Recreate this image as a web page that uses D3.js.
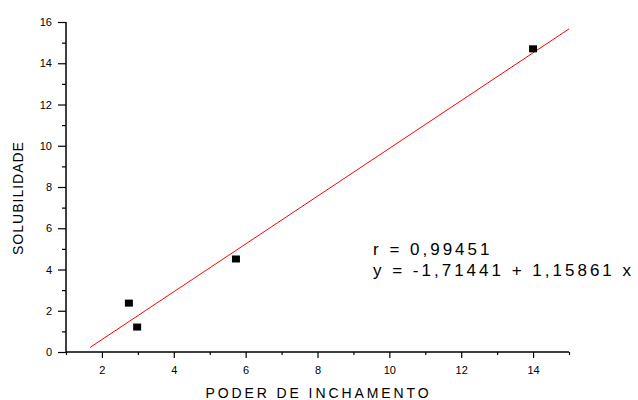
<!DOCTYPE html>
<html>
<head>
<meta charset="utf-8">
<script src="https://cdn.jsdelivr.net/npm/d3@7"></script>
<style>
  body { margin: 0; background: #fff; }
  svg text { font-family: "Liberation Sans", Arial, sans-serif; fill: #000; }
</style>
</head>
<body>
<div id="chart"></div>
<script>
// Solubilidade x poder de inchamento
const poderInchamento = [2.75, 2.98, 5.73, 14.0];
const solubilidade = [2.37, 1.21, 4.51, 14.7];
const intercepto = -1.71441, inclinacao = 1.15861;
const fitRange = [1.67, 15];
const xTicks = [2, 4, 6, 8, 10, 12, 14];
const yTicks = [0, 2, 4, 6, 8, 10, 12, 14, 16];
const legenda = ["r = 0,99451", "y = -1,71441 + 1,15861 x"];

const width = 638, height = 400;
const margin = { top: 22, right: 69, bottom: 48, left: 66 };

const svg = d3.select("#chart").append("svg")
    .attr("width", width)
    .attr("height", height);

const x = d3.scaleLinear().domain([1, 15]).range([margin.left, width - margin.right]);
const y = d3.scaleLinear().domain([0, 16]).range([height - margin.bottom, margin.top]);

// eixo x
const gx = svg.append("g").attr("transform", `translate(0, ${y(0)})`);
gx.call(d3.axisBottom(x).tickValues(d3.range(1, 15.01, 1)).tickSize(3).tickFormat(""));
gx.call(g => g.selectAll(".tick").filter(d => xTicks.includes(d)).select("line").attr("y2", 6));
gx.selectAll(".tick").filter(d => xTicks.includes(d)).select("text")
    .text(d => d).attr("y", 14).style("font-size", "11px");

// eixo y
const gy = svg.append("g").attr("transform", `translate(${x(1)}, 0)`);
gy.call(d3.axisLeft(y).tickValues(d3.range(0, 16.01, 1)).tickSize(4).tickFormat(""));
gy.call(g => g.selectAll(".tick").filter(d => yTicks.includes(d)).select("line").attr("x2", -8));
gy.selectAll(".tick").filter(d => yTicks.includes(d)).select("text")
    .text(d => d).attr("x", -14).style("font-size", "11px");

gx.select(".domain").attr("d", `M${x(1)},0H${x(15)}`);
gy.select(".domain").attr("d", `M0,${y(0)}V${y(16)}`);
svg.selectAll(".tick line").attr("stroke-width", 1.2);
svg.selectAll(".domain").attr("stroke-width", 1.5);

// titulos
svg.append("text")
    .attr("x", (x(1) + x(15)) / 2 + 1)
    .attr("y", 398)
    .attr("text-anchor", "middle")
    .style("font-size", "14px")
    .style("letter-spacing", "2.9px")
    .text("PODER DE INCHAMENTO");

svg.append("text")
    .attr("transform", `translate(23, 198) rotate(-90)`)
    .attr("text-anchor", "middle")
    .style("font-size", "14px")
    .style("letter-spacing", "1px")
    .text("SOLUBILIDADE");

// reta ajustada
svg.append("line")
    .attr("x1", x(fitRange[0])).attr("y1", y(intercepto + inclinacao * fitRange[0]))
    .attr("x2", x(fitRange[1])).attr("y2", y(intercepto + inclinacao * fitRange[1]))
    .attr("stroke", "#ff0000")
    .attr("stroke-width", 1);

// pontos
const s = 8;
svg.selectAll("rect.pt")
    .data(poderInchamento.map((d, i) => [d, solubilidade[i]]))
    .enter().append("rect")
    .attr("class", "pt")
    .attr("x", d => x(d[0]) - s / 2)
    .attr("y", d => y(d[1]) - s / 2 + 0.5)
    .attr("width", s)
    .attr("height", s - 1)
    .attr("fill", "#000");

// legenda
svg.selectAll("text.leg")
    .data(legenda)
    .enter().append("text")
    .attr("class", "leg")
    .attr("x", 373)
    .attr("y", (d, i) => 255 + i * 21)
    .style("font-size", "17px")
    .style("letter-spacing", "3px")
    .text(d => d);
</script>
</body>
</html>
